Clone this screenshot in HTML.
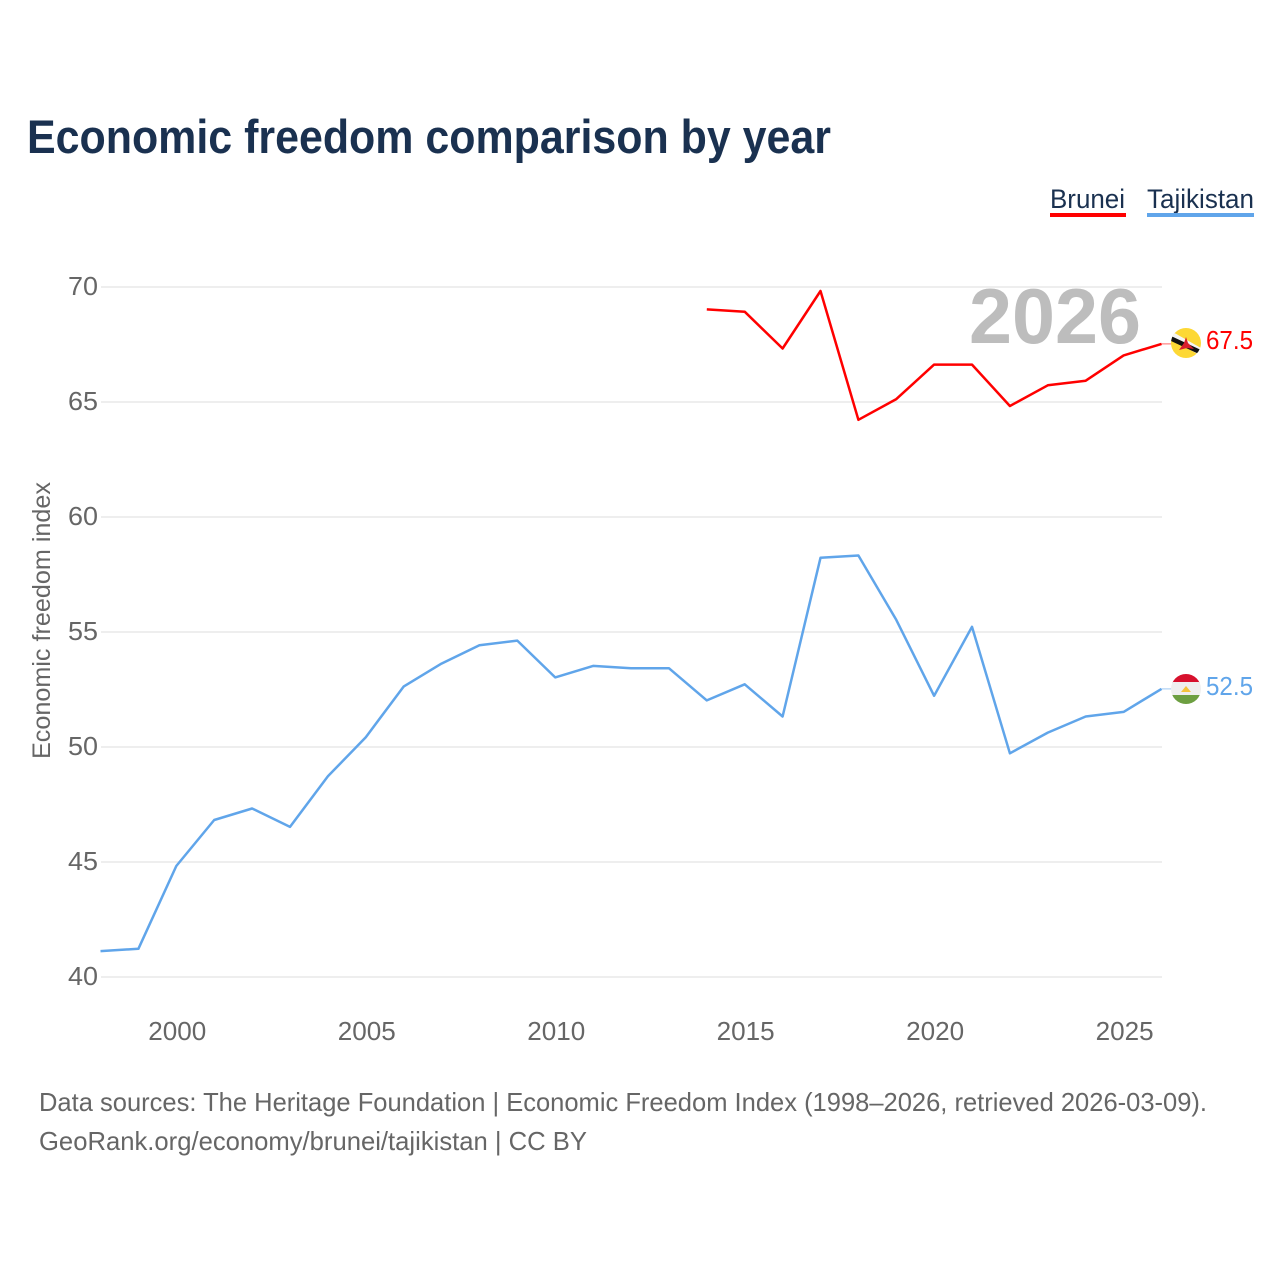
<!DOCTYPE html>
<html lang="en">
<head>
<meta charset="utf-8">
<title>Economic freedom comparison by year</title>
<style>
html,body{margin:0;padding:0;background:#fff;}
svg{display:block;font-family:"Liberation Sans",sans-serif;}
</style>
</head>
<body>
<svg id="chart" width="1280" height="1280" viewBox="0 0 1280 1280" xmlns="http://www.w3.org/2000/svg">
  <defs>
    <clipPath id="clip-brunei"><circle cx="1186" cy="343" r="15"/></clipPath>
    <clipPath id="clip-tajik"><circle cx="1186" cy="689" r="15"/></clipPath>
  </defs>
  <rect width="1280" height="1280" fill="#fff"/>
  <text x="27" y="153" font-size="47" font-weight="700" fill="#1a3150" textLength="804" lengthAdjust="spacingAndGlyphs">Economic freedom comparison by year</text>

  <g>
    <g>
      <text x="1050" y="208" font-size="27" fill="#1a3150" textLength="75" lengthAdjust="spacingAndGlyphs">Brunei</text>
      <rect x="1050" y="213" width="76" height="4" fill="#ff0000"/>
    </g>
    <g>
      <text x="1147" y="208" font-size="27" fill="#1a3150" textLength="107" lengthAdjust="spacingAndGlyphs">Tajikistan</text>
      <rect x="1147" y="213" width="107" height="4" fill="#60a5ea"/>
    </g>
  </g>

  <g id="grid"></g>
  <g id="y-ticks"></g>
  <g id="x-ticks"></g>
  <text transform="translate(50,759) rotate(-90)" font-size="25" fill="#666" textLength="277" lengthAdjust="spacingAndGlyphs">Economic freedom index</text>
  <text x="969" y="343" font-size="78" font-weight="700" fill="#bdbdbd" textLength="172" lengthAdjust="spacingAndGlyphs">2026</text>
  <g id="series" transform="translate(-0.5,-0.6)"></g>

  <g clip-path="url(#clip-brunei)">
    <rect x="1171" y="328" width="30" height="30" fill="#fdd835"/>
    <polygon points="1171,331 1171,339 1201,356 1201,348" fill="#f5f5f5"/>
    <polygon points="1171,336 1171,341 1201,355 1201,350" fill="#111"/>
    <polygon points="1186,337 1188,343 1194,349 1187,348 1179,350 1184,343" fill="#d81e2c"/>
  </g>
  <g clip-path="url(#clip-tajik)">
    <rect x="1171" y="674" width="30" height="9" fill="#d7112d"/>
    <rect x="1171" y="682" width="30" height="14" fill="#efefef"/>
    <rect x="1171" y="695" width="30" height="9" fill="#6d9f41"/>
    <polygon points="1181,692 1186,686 1191,692" fill="#f5c33b"/>
  </g>
  <text x="1206" y="349" font-size="25.5" fill="#ff0000" textLength="47" lengthAdjust="spacingAndGlyphs">67.5</text>
  <text x="1206" y="695" font-size="25.5" fill="#60a5ea" textLength="47" lengthAdjust="spacingAndGlyphs">52.5</text>

  <text x="39" y="1111" font-size="26" fill="#666" textLength="1168" lengthAdjust="spacingAndGlyphs">Data sources: The Heritage Foundation | Economic Freedom Index (1998–2026, retrieved 2026-03-09).</text>
  <text x="39" y="1150" font-size="26" fill="#666" textLength="548" lengthAdjust="spacingAndGlyphs">GeoRank.org/economy/brunei/tajikistan | CC BY</text>
</svg>
<script>
const yTicks = [40, 45, 50, 55, 60, 65, 70];
const xTicks = [2000, 2005, 2010, 2015, 2020, 2025];
const bruneiYears = [2014, 2015, 2016, 2017, 2018, 2019, 2020, 2021, 2022, 2023, 2024, 2025, 2026];
const bruneiValues = [69.0, 68.9, 67.3, 69.8, 64.2, 65.1, 66.6, 66.6, 64.8, 65.7, 65.9, 67.0, 67.5];
const tajikistanYears = [1998, 1999, 2000, 2001, 2002, 2003, 2004, 2005, 2006, 2007, 2008, 2009, 2010, 2011, 2012, 2013, 2014, 2015, 2016, 2017, 2018, 2019, 2020, 2021, 2022, 2023, 2024, 2025, 2026];
const tajikistanValues = [41.1, 41.2, 44.8, 46.8, 47.3, 46.5, 48.7, 50.4, 52.6, 53.6, 54.4, 54.6, 53.0, 53.5, 53.4, 53.4, 52.0, 52.7, 51.3, 58.2, 58.3, 55.5, 52.2, 55.2, 49.7, 50.6, 51.3, 51.5, 52.5];

const NS = 'http://www.w3.org/2000/svg';
function xScale(year) { return 101 + (year - 1998) * (1162 - 101) / 28; }
function yScale(v) { return 977 - (v - 40) * 23; }
function make(tag, attrs, parent) {
  const el = document.createElementNS(NS, tag);
  for (const k in attrs) el.setAttribute(k, attrs[k]);
  parent.appendChild(el);
  return el;
}
const gridG = document.getElementById('grid');
const yG = document.getElementById('y-ticks');
const xG = document.getElementById('x-ticks');
const seriesG = document.getElementById('series');

yTicks.forEach(function (t) {
  const line = make('line', { x1: 101, x2: 1162, y1: yScale(t), y2: yScale(t), stroke: '#eeeeee', 'stroke-width': 2 }, gridG);
  
  
  const label = make('text', { x: 98, y: yScale(t) + 8, 'text-anchor': 'end', 'font-size': 25.5, fill: '#666', textLength: 30, lengthAdjust: 'spacingAndGlyphs' }, yG);
  
  
  label.textContent = t;
});
xTicks.forEach(function (t) {
  const label = make('text', { x: xScale(t) + 0.5, y: 1040, 'text-anchor': 'middle', 'font-size': 25.5, fill: '#666', textLength: 58, lengthAdjust: 'spacingAndGlyphs' }, xG);
  
  
  label.textContent = t;
});
function drawSeries(years, values, color, name) {
  const pts = years.map(function (y, i) { return xScale(y).toFixed(1) + ',' + yScale(values[i]).toFixed(1); }).join(' ');
  const poly = make('polyline', { points: pts, fill: 'none', stroke: color, 'stroke-width': 2.5, 'stroke-linejoin': 'round' }, seriesG);
  
  
  const last = yScale(values[values.length - 1]);
  const lead = make('line', { x1: xScale(years[years.length - 1]), x2: 1172, y1: last, y2: last, stroke: color, 'stroke-width': 1, opacity: 0.6 }, seriesG);
  
  
}
drawSeries(bruneiYears, bruneiValues, '#ff0000', 'line-brunei');
drawSeries(tajikistanYears, tajikistanValues, '#60a5ea', 'line-tajikistan');
</script>
</body>
</html>
